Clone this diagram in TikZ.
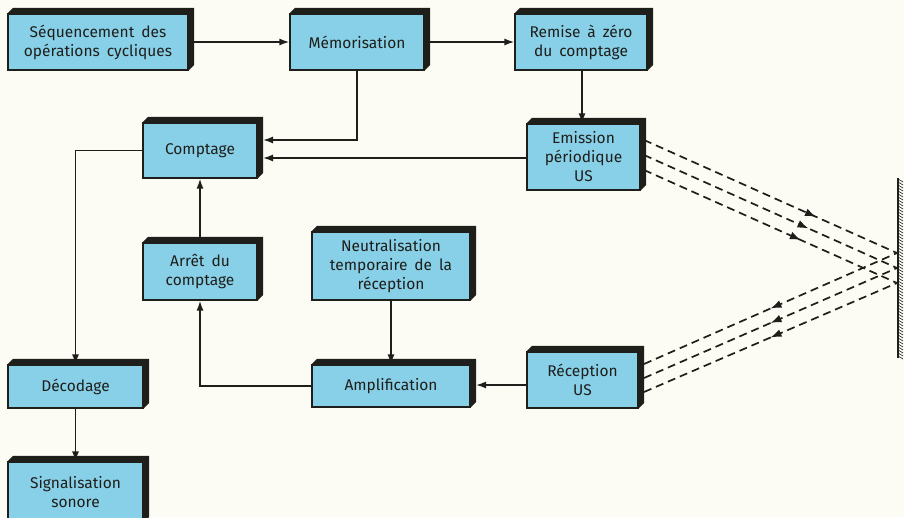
\documentclass[tikz,border=0pt]{standalone}
\usepackage{fontspec}
\setmainfont{Fira Sans}
\usetikzlibrary{arrows.meta,decorations.markings,calc}
\definecolor{boxc}{RGB}{136,208,232}
\definecolor{darkc}{RGB}{30,30,26}
\definecolor{bgc}{RGB}{253,252,244}
\newcommand\blkfont{\fontsize{15.5}{19}\selectfont\spaceskip 0.45em\relax}
\tikzset{
  blk/.style={draw=darkc, line width=1.2pt, fill=boxc, inner sep=0pt, align=center,
    text=darkc, font=\blkfont},
  conn/.style={draw=darkc, line width=1.6pt, -{Latex[length=10pt,width=7pt]}},
  ray/.style={draw=darkc, line width=1.7pt, dash pattern=on 8pt off 5pt},
  rayout/.style={ray, postaction={decorate}, decoration={markings,
    mark=at position #1 with {\arrow{Latex[length=11pt,width=8pt]}}}},
  rayin/.style={ray, postaction={decorate}, decoration={markings,
    mark=at position #1 with {\arrowreversed{Latex[length=11pt,width=8pt]}}}},
}
\newcommand\boxshadow[1]{%
  \fill[darkc] (#1.north west) -- ++(5.5,-5.5) -- ([shift={(5.5,-5.5)}]#1.north east)
    -- ([shift={(5.5,-5.5)}]#1.south east) -- (#1.south east) -- (#1.north east) -- cycle;}
\begin{document}
\begin{tikzpicture}[x=1pt,y=-1pt]
\useasboundingbox (0,0) rectangle (904,517);
\fill[bgc] (0,0) rectangle (904,517);
\begin{scope}
\clip (0,0) rectangle (904,517);
% boxes
\node[blk, minimum width=180pt, minimum height=56pt] (seq) at (98,42) {Séquencement des\\opérations cycliques};
\node[blk, minimum width=134pt, minimum height=56pt] (mem) at (357,42) {Mémorisation};
\node[blk, minimum width=132pt, minimum height=56pt] (rem) at (581,42) {Remise à zéro\\du comptage};
\node[blk, minimum width=114pt, minimum height=55pt] (comp) at (200,150.5) {Comptage};
\node[blk, minimum width=113pt, minimum height=66pt] (emi) at (583.5,157) {Emission\\périodique\\US};
\node[blk, minimum width=114pt, minimum height=57pt] (arr) at (200,271.5) {Arrêt du\\comptage};
\node[blk, minimum width=158pt, minimum height=68pt] (neu) at (391,266) {Neutralisation\\temporaire de la\\réception};
\node[blk, minimum width=158pt, minimum height=42pt] (amp) at (391,386) {Amplification};
\node[blk, minimum width=111pt, minimum height=56pt] (rec) at (582.5,380) {Réception\\US};
\node[blk, minimum width=135pt, minimum height=43pt] (dec) at (75.5,386.5) {Décodage};
\node[blk, minimum width=135pt, minimum height=60pt] (sig) at (75.5,492) {Signalisation\\sonore};
\foreach \n in {seq,mem,rem,comp,emi,arr,neu,amp,rec,dec,sig} {\boxshadow{\n}}
% connectors
\coordinate (c1) at (263,140);
\coordinate (c2) at (263,158);
\coordinate (c3) at (476,385);
\draw[conn] ([xshift=5.5]seq.east) -- (mem.west);
\draw[conn] ([xshift=5.5]mem.east) -- (rem.west);
\draw[conn] (rem.south -| 582,0) -- (emi.north -| 582,0);
\draw[conn] (mem.south) |- (c1);
\draw[conn] (emi.west |- c2) -- (c2);
\draw[conn] (comp.west) -| (dec.north);
\draw[conn] (arr.north) -- (comp.south);
\draw[conn] (amp.west) -| (arr.south);
\draw[conn] (neu.south) -- (amp.north);
\draw[conn] (rec.west |- c3) -- (c3);
\draw[conn] (dec.south) -- (sig.north);
% wall
\coordinate (w1) at (897,253);
\coordinate (w2) at (897,268);
\coordinate (w3) at (897,283);
\coordinate (e1) at (644,140);
\coordinate (e2) at (644,155);
\coordinate (e3) at (644,170);
\coordinate (r1) at (644,364);
\coordinate (r2) at (644,378);
\coordinate (r3) at (644,392);
\draw[rayout=0.68] (e1) -- (w1);
\draw[rayout=0.65] (e2) -- (w2);
\draw[rayout=0.62] (e3) -- (w3);
\draw[rayin=0.5] (r1) -- (w1);
\draw[rayin=0.5] (r2) -- (w2);
\draw[rayin=0.5] (r3) -- (w3);
\coordinate (wt) at (898,178);
\coordinate (wb) at (898,358);
\draw[darkc, line width=1.8pt] (wt) -- (wb);
\foreach \y in {179,182,...,356} {\draw[darkc, line width=0.6pt] (898,\y) -- (903,\y+3);}
\end{scope}
\end{tikzpicture}
\end{document}
